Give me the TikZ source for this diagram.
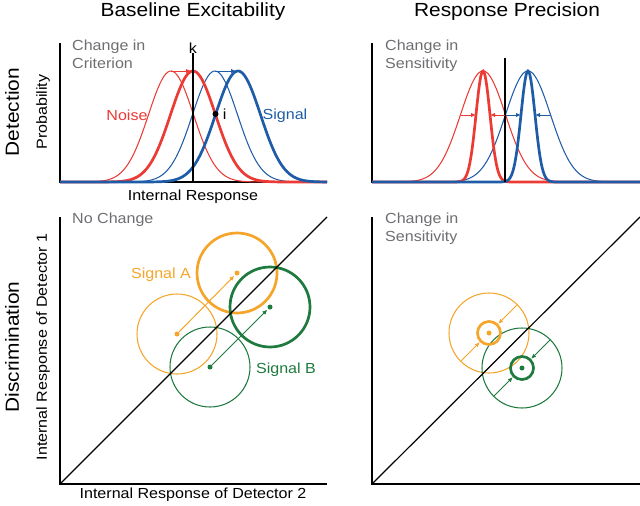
\documentclass[tikz,border=0pt]{standalone}
\usepackage{fontspec}
\setmainfont[FakeStretch=1.1]{Liberation Sans}
\usetikzlibrary{arrows.meta,positioning,calc}
\definecolor{NoiseRed}{HTML}{EC3A34}
\definecolor{SignalBlue}{HTML}{1F5CA8}
\definecolor{SigOrange}{HTML}{F4A52A}
\definecolor{SigGreen}{HTML}{1E7A3E}
\definecolor{NoteGray}{HTML}{6D6E71}

\begin{document}
\begin{tikzpicture}[
    x=1pt,y=-1pt,
    lab/.style={inner sep=0pt,font=\fontsize{14.6}{18}\selectfont},
    note/.style={lab,text=NoteGray,align=left,anchor=north west},
    title/.style={inner sep=0pt,font=\fontsize{19}{22}\selectfont},
    axis/.style={line width=1.3pt,draw=black},
    thinc/.style={line width=1.05pt},
    thickc/.style={line width=2.7pt},
    ring/.style={circle,draw,inner sep=0pt,outer sep=0pt,minimum size=80pt,line width=1.05pt},
    tightring/.style={circle,draw,inner sep=0pt,outer sep=0pt,minimum size=23pt,line width=2.7pt},
    dot/.style={circle,fill,inner sep=0pt,minimum size=5pt},
    arrow/.style={-{Latex[length=5pt,width=4.5pt]},line width=1pt}
  ]
    \useasboundingbox (0,0) rectangle (640,506);

    \node[title] (base) at (193,12) {Baseline Excitability};
    \node[title] (prec) at (507,12) {Response Precision};
    \node[title,rotate=90] (det) at (12,112) {Detection};
    \node[title,rotate=90] (disc) at (12,347) {Discrimination};

    % detection, baseline excitability
    \draw[axis] (60,43) |- (327,182);
    \foreach \mu/\col/\wid in {171/NoiseRed/thinc,215/SignalBlue/thinc,
        193/NoiseRed/thickc,238/SignalBlue/thickc}
      \draw[\col,\wid] plot[domain=60:327,samples=140]
        (\x,{182-111*exp(-0.5*((\x-\mu)/22.5)^2)});
    \node[lab] (k) at (193,48) {k};
    \coordinate (kfoot) at (193,182);
    \draw[line width=1.1pt] (k) -- (kfoot);
    \coordinate (nOld) at (171,71);
    \coordinate (nNew) at (193,71);
    \coordinate (sOld) at (215,71);
    \coordinate (sNew) at (238,71);
    \draw[arrow,NoiseRed,shorten >=2pt] (nOld) -- (nNew);
    \draw[arrow,SignalBlue,shorten >=2pt] (sOld) -- (sNew);
    \node[dot,minimum size=6pt] (ipt) at (215.5,114) {};
    \node[lab,right=4pt of ipt] (ilab) {i};
    \node[lab,NoiseRed] (noise) at (127,115) {Noise};
    \node[lab,SignalBlue] (signal) at (285,116) {Signal};
    \node[lab,rotate=90] (prob) at (43,112) {Probability};
    \node[lab] (ir) at (193,197) {Internal Response};
    \node[note] (crit) at (72,40) {Change in\\Criterion};

    % detection, response precision
    \draw[axis] (372,43) |- (640,182);
    \foreach \mu/\col/\wid/\sd in {483/NoiseRed/thinc/22.5,528/SignalBlue/thinc/22.5,
        483/NoiseRed/thickc/7,528/SignalBlue/thickc/7}
      \draw[\col,\wid] plot[domain=372:640,samples=300]
        (\x,{182-111*exp(-0.5*((\x-\mu)/\sd)^2)});
    \coordinate (ctop) at (505,58);
    \coordinate (cfoot) at (505,182);
    \draw[line width=1.1pt] (ctop) -- (cfoot);
    \foreach \a/\b/\col [count=\n] in {461/476/NoiseRed,505/490/NoiseRed,
        506/521/SignalBlue,550/535/SignalBlue}{
      \coordinate (w\n a) at (\a,115);
      \coordinate (w\n b) at (\b,115);
      \draw[arrow,\col] (w\n a) -- (w\n b);
    }
    \node[note] (sens) at (385,40) {Change in\\Sensitivity};

    % discrimination, no change
    \draw[axis] (60,217) |- (327,484);
    \coordinate (o1) at (60,484);
    \coordinate (d1) at (327,217);
    \node[ring,SigOrange] (aOld) at (177,334) {};
    \node[ring,SigGreen] (bOld) at (210,367) {};
    \node[ring,SigOrange,line width=2.7pt] (aNew) at (237,273) {};
    \node[ring,SigGreen,line width=2.7pt] (bNew) at (270,307) {};
    \draw[line width=1.2pt] (o1) -- (d1);
    \node[dot,SigOrange] (aOldc) at (aOld) {};
    \node[dot,SigOrange] (aNewc) at (aNew) {};
    \node[dot,SigGreen] (bOldc) at (bOld) {};
    \node[dot,SigGreen] (bNewc) at (bNew) {};
    \draw[arrow,SigOrange,shorten >=1pt] (aOldc) -- (aNewc);
    \draw[arrow,SigGreen,shorten >=1pt] (bOldc) -- (bNewc);
    \node[lab,SigOrange] (sigA) at (161,275) {Signal A};
    \node[lab,SigGreen] (sigB) at (286,370) {Signal B};
    \node[note] (nochg) at (72,213) {No Change};
    \node[lab,rotate=90] (ird1) at (43,347) {Internal Response of Detector 1};
    \node[lab] (ird2) at (193,495) {Internal Response of Detector 2};

    % discrimination, change in sensitivity
    \draw[axis] (372,217) |- (640,484);
    \coordinate (o2) at (372,484);
    \coordinate (d2) at (640,217);
    \node[ring,SigOrange] (aWide) at (489,333) {};
    \node[ring,SigGreen] (bWide) at (522,368) {};
    \draw[line width=1.2pt] (o2) -- (d2);
    \node[tightring,SigOrange] (aTight) at (aWide) {};
    \node[tightring,SigGreen] (bTight) at (bWide) {};
    \node[dot,SigOrange] (aWidec) at (aWide) {};
    \node[dot,SigGreen] (bWidec) at (bWide) {};
    \foreach \ang in {45,225}{
      \draw[arrow,SigOrange,shorten >=1.5pt] (aWide.\ang) -- (aTight.\ang);
      \draw[arrow,SigGreen,shorten >=1.5pt] (bWide.\ang) -- (bTight.\ang);
    }
    \node[note] (sens2) at (385,213) {Change in\\Sensitivity};
\end{tikzpicture}
\end{document}
